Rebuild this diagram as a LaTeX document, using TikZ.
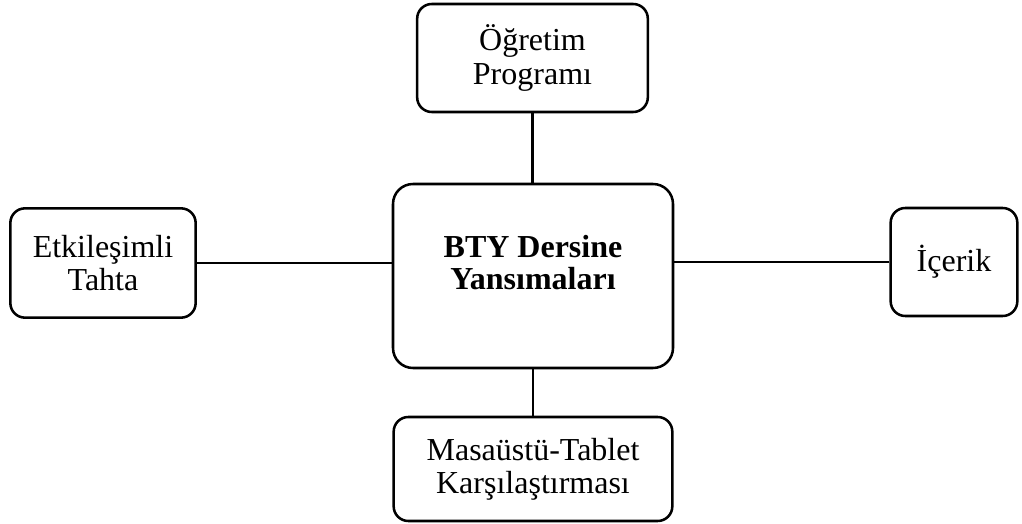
\documentclass[tikz,border=0pt]{standalone}
\usepackage{fontspec}
\setmainfont{Liberation Serif}
\begin{document}
\begin{tikzpicture}[x=0.75pt,y=-0.75pt,
  kutu/.style={draw, line width=1.9pt, rounded corners=11pt, align=center,
    inner sep=0pt, font=\fontsize{24}{25}\selectfont},
  baglanti/.style={line width=1.9pt},
  ]
\useasboundingbox (0,0) rectangle (1022,524);
\node[kutu, rounded corners=15pt, minimum width=210pt, minimum height=138pt, text depth=20pt,
  font=\fontsize{24}{24}\selectfont\bfseries] (merkez) at (533,276) {BTY Dersine\\Yansımaları};
\node[kutu, minimum width=173pt, minimum height=81pt] (ogretim) at (532.5,58) {Öğretim\\Programı};
\node[kutu, minimum width=139pt, minimum height=82pt] (tahta) at (103,263) {Etkileşimli\\Tahta};
\node[kutu, minimum width=95pt, minimum height=81pt] (icerik) at (954,262) {İçerik};
\node[kutu, minimum width=209pt, minimum height=78pt] (tablet) at (533,469) {Masaüstü-Tablet\\Karşılaştırması};

\draw[baglanti] (ogretim.south) -- (ogretim.south |- merkez.north);
\draw[baglanti] (tahta.east) -- (tahta.east -| merkez.west);
\draw[baglanti] (icerik.west) -- (icerik.west -| merkez.east);
\draw[baglanti] (merkez.south) -- (tablet.north);
\end{tikzpicture}
\end{document}
